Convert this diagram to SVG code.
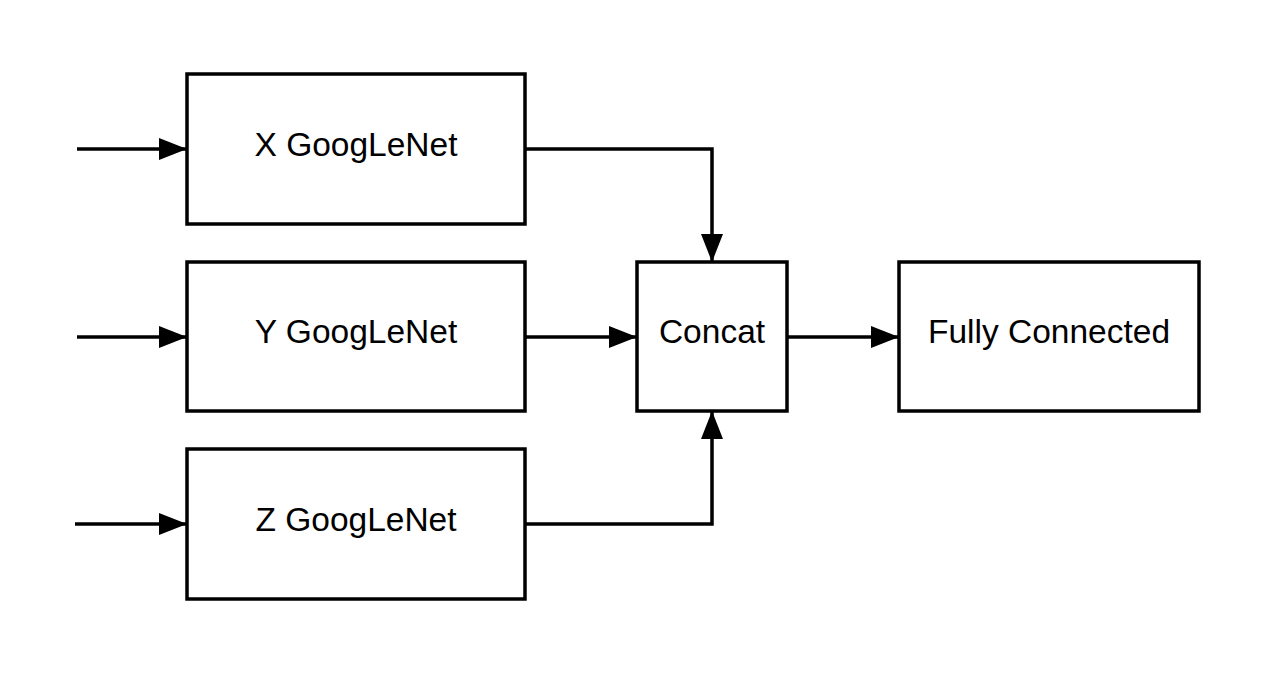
<svg xmlns="http://www.w3.org/2000/svg" width="1275" height="675" viewBox="0 0 1275 675">
<style>
.box{fill:#fff;stroke:#000;stroke-width:3.5}
.lbl{font-family:"Liberation Sans",Arial,sans-serif;font-size:33.5px;fill:#000;text-anchor:middle}
.conn{fill:none;stroke:#000;stroke-width:3.5}
</style>
<defs>
<marker id="arr" viewBox="0 0 28 22" refX="28" refY="11" markerWidth="28" markerHeight="22" markerUnits="userSpaceOnUse" orient="auto">
<path d="M0,0 L28,11 L0,22 Z" fill="#000"/>
</marker>
</defs>
<rect width="1275" height="675" fill="#fff"/>
<g id="connectors">
<path class="conn" d="M77,149 H187" marker-end="url(#arr)"/>
<path class="conn" d="M77,337 H187" marker-end="url(#arr)"/>
<path class="conn" d="M75,524 H187" marker-end="url(#arr)"/>
<path class="conn" d="M525,149 H712 V262" marker-end="url(#arr)"/>
<path class="conn" d="M525,337 H637" marker-end="url(#arr)"/>
<path class="conn" d="M525,524 H712 V411" marker-end="url(#arr)"/>
<path class="conn" d="M787,337 H899" marker-end="url(#arr)"/>
</g>
<g id="x-googlenet">
<rect class="box" x="187" y="74" width="338" height="150"/>
<text class="lbl" x="356" y="156">X GoogLeNet</text>
</g>
<g id="y-googlenet">
<rect class="box" x="187" y="262" width="338" height="149"/>
<text class="lbl" x="356" y="343">Y GoogLeNet</text>
</g>
<g id="z-googlenet">
<rect class="box" x="187" y="449" width="338" height="150"/>
<text class="lbl" x="356" y="531">Z GoogLeNet</text>
</g>
<g id="concat">
<rect class="box" x="637" y="262" width="150" height="149"/>
<text class="lbl" x="712" y="343">Concat</text>
</g>
<g id="fully-connected">
<rect class="box" x="899" y="262" width="300" height="149"/>
<text class="lbl" x="1049" y="343">Fully Connected</text>
</g>
</svg>
